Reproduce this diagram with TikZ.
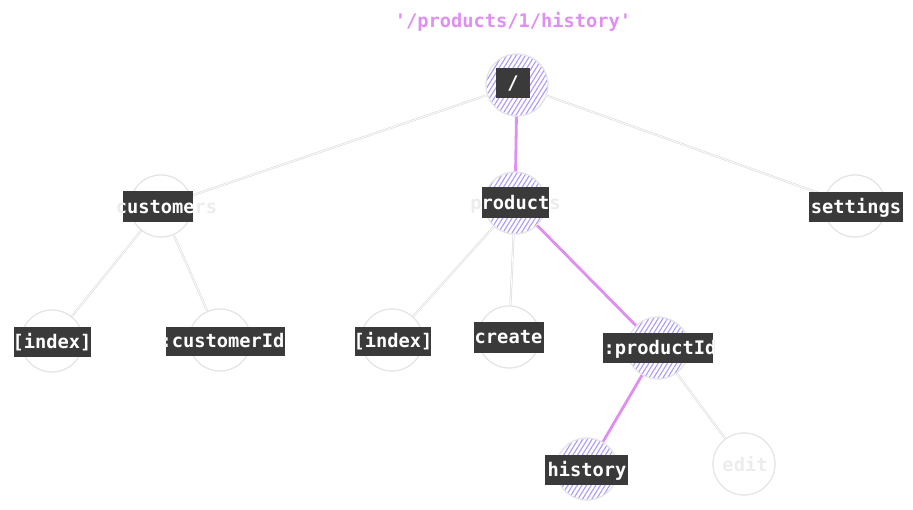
\documentclass[tikz,border=0pt]{standalone}
\usepackage{fontspec}
\setmonofont{DejaVu Sans Mono}
\usetikzlibrary{patterns.meta}

\definecolor{boxgray}{HTML}{3A3A3A}
\definecolor{ghostgray}{HTML}{ECECEC}
\definecolor{ringgray}{HTML}{E4E4E4}
\definecolor{linkgray}{HTML}{DEDEDE}
\definecolor{hotpurple}{HTML}{DF8FF2}
\definecolor{hatchblue}{HTML}{AE99FA}

\tikzset{
  route/.style={circle, draw=ringgray, line width=0.9pt, minimum size=1.55cm, inner sep=0pt},
  active/.style={route, pattern={Lines[angle=58,distance=2.8pt,line width=0.8pt]}, pattern color=hatchblue},
  ghost/.style={text=ghostgray, font=\ttfamily\bfseries\fontsize{13.3}{16}\selectfont, inner sep=0pt,
    text height=0.96em, text depth=0em},
  keytext/.style={ghost, text=white},
  link/.style={draw=linkgray, double=white, double distance=0.5pt, line width=0.5pt},
  hotlink/.style={draw=hotpurple, line width=2pt},
}

% name, text centre, text, box corner, box corner
\newcommand{\keylabel}[5]{%
  \node[ghost] (#1) at (#2) {#3};
  \fill[boxgray] (#4) rectangle (#5);
  \begin{scope}
    \clip (#4) rectangle (#5);
    \node[keytext] (#1w) at (#2) {#3};
  \end{scope}}

\begin{document}
\begin{tikzpicture}[x=0.025cm, y=-0.025cm]
  \useasboundingbox (0,0) rectangle (913,510);

  \node[text=hotpurple, font=\ttfamily\bfseries\fontsize{13.3}{16}\selectfont] (path) at (513,22) {'/products/1/history'};

  % routes
  \node[active] (root) at (517,85) {};
  \node[route] (customers) at (161,206) {};
  \node[active] (products) at (515,203) {};
  \node[route] (settings) at (855,206) {};
  \node[route] (custindex) at (52,341) {};
  \node[route] (customerid) at (220,340) {};
  \node[route] (prodindex) at (392,340) {};
  \node[route] (create) at (509,337) {};
  \node[active] (productid) at (658,348) {};
  \node[active] (history) at (587,469) {};
  \node[route] (edit) at (744,464) {};

  % links
  \begin{scope}
    \draw[link] (root) -- (customers);
    \draw[link] (root) -- (settings);
    \draw[link] (customers) -- (custindex);
    \draw[link] (customers) -- (customerid);
    \draw[link] (products) -- (prodindex);
    \draw[link] (products) -- (create);
    \draw[link] (productid) -- (edit);
    \draw[hotlink] (root) -- (products);
    \draw[hotlink] (products) -- (productid);
    \draw[hotlink] (productid) -- (history);
  \end{scope}

  % labels
  \keylabel{root-l}{513,83}{/}{496,68}{530,98}
  \keylabel{customers-l}{166.5,207}{customers}{123,191}{193,222}
  \keylabel{products-l}{515.5,203}{products}{482,187}{549,218}
  \keylabel{settings-l}{856,207}{settings}{809,192}{903,222}
  \keylabel{custindex-l}{52,342}{[index]}{14,327}{91,357}
  \keylabel{customerid-l}{222.5,341}{:customerId}{166,327}{285,356}
  \keylabel{prodindex-l}{393,341}{[index]}{355,327}{431,356}
  \keylabel{create-l}{508.5,337}{create}{474,322}{544,353}
  \keylabel{productid-l}{660,348}{:productId}{603,333}{713,363}
  \keylabel{history-l}{587,470}{history}{545,455}{628,485}
  \node[ghost] (edit-l) at (745,465) {edit};
\end{tikzpicture}
\end{document}
